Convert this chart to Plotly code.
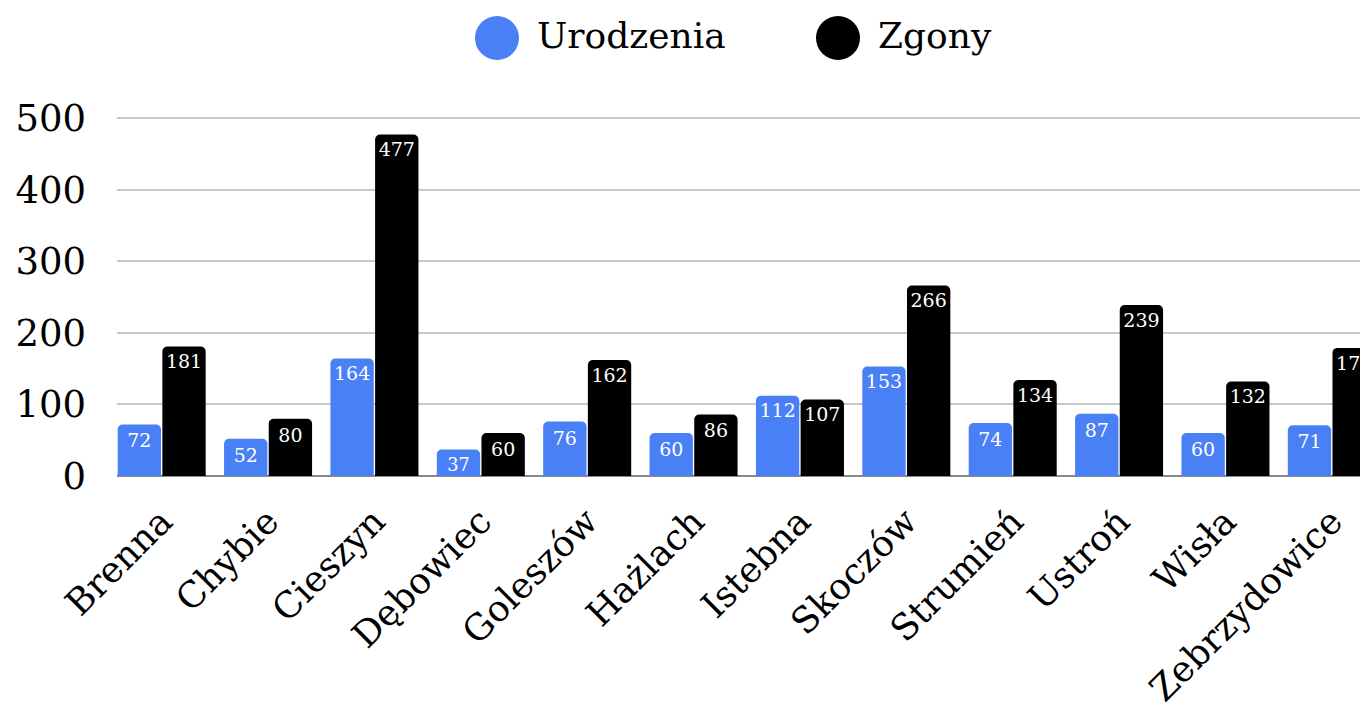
import plotly.graph_objects as go

categories = ["Brenna", "Chybie", "Cieszyn", "Dębowiec", "Goleszów", "Hażlach",
              "Istebna", "Skoczów", "Strumień", "Ustroń", "Wisła", "Zebrzydowice"]
urodzenia = [72, 52, 164, 37, 76, 60, 112, 153, 74, 87, 60, 71]
zgony = [181, 80, 477, 60, 162, 86, 107, 266, 134, 239, 132, 179]
series_names = ["Urodzenia", "Zgony"]
series_colors = ["#4a80f6", "#000000"]
y_ticks = [0, 100, 200, 300, 400, 500]

FONT = "DejaVu Serif"
OFF = 8  # page body margin
W, H = 1368 - OFF, 711 - OFF
L, T, B = 117 - OFF, 116 - OFF, 235
PW, PH = W - L, H - T - B

fig = go.Figure()
for name, vals, col in zip(series_names, [urodzenia, zgony], series_colors):
    fig.add_trace(go.Bar(
        x=categories, y=vals, name=name,
        marker=dict(color=col, line=dict(width=0)),
        text=[str(v) for v in vals],
        textposition="inside", insidetextanchor="end", textangle=0,
        constraintext="none", cliponaxis=True,
        insidetextfont=dict(family=FONT, size=19, color="white"),
        showlegend=False,
    ))

# legend drawn as circles + text at top (page pixel positions)
for i, (name, col) in enumerate(zip(series_names, series_colors)):
    cx = [497, 838][i] - OFF
    cy = 38 - OFF
    fig.add_shape(type="circle", xref="paper", yref="paper",
                  x0=(cx - 22 - L) / PW, x1=(cx + 22 - L) / PW,
                  y0=1 + (T - cy - 22) / PH, y1=1 + (T - cy + 22) / PH,
                  fillcolor=col, line=dict(width=0))
    fig.add_annotation(xref="paper", yref="paper",
                       x=(cx + 38 - L) / PW, y=1 + (T - cy + 2) / PH,
                       xanchor="left", yanchor="middle", showarrow=False,
                       text=name, font=dict(family=FONT, size=36, color="black"))

fig.update_layout(
    width=W, height=H,
    margin=dict(l=L, r=0, t=T, b=B, autoexpand=False),
    paper_bgcolor="white", plot_bgcolor="white",
    barmode="group", bargap=0.16, bargroupgap=0.03,
    barcornerradius=5,
    font=dict(family=FONT, color="black"),
    xaxis=dict(range=[-0.42, 11.34], tickangle=-45,
               tickfont=dict(family=FONT, size=36, color="black"),
               showgrid=False, showline=False, ticks="", ticklabelstandoff=16),
    yaxis=dict(range=[0, 503], tickvals=y_ticks,
               tickfont=dict(family=FONT, size=37, color="black"),
               showgrid=True, gridcolor="#c8c8c8", gridwidth=1.5,
               zeroline=True, zerolinecolor="#888888", zerolinewidth=1.5,
               ticklabelstandoff=30),
)

fig.write_html("out.html")
